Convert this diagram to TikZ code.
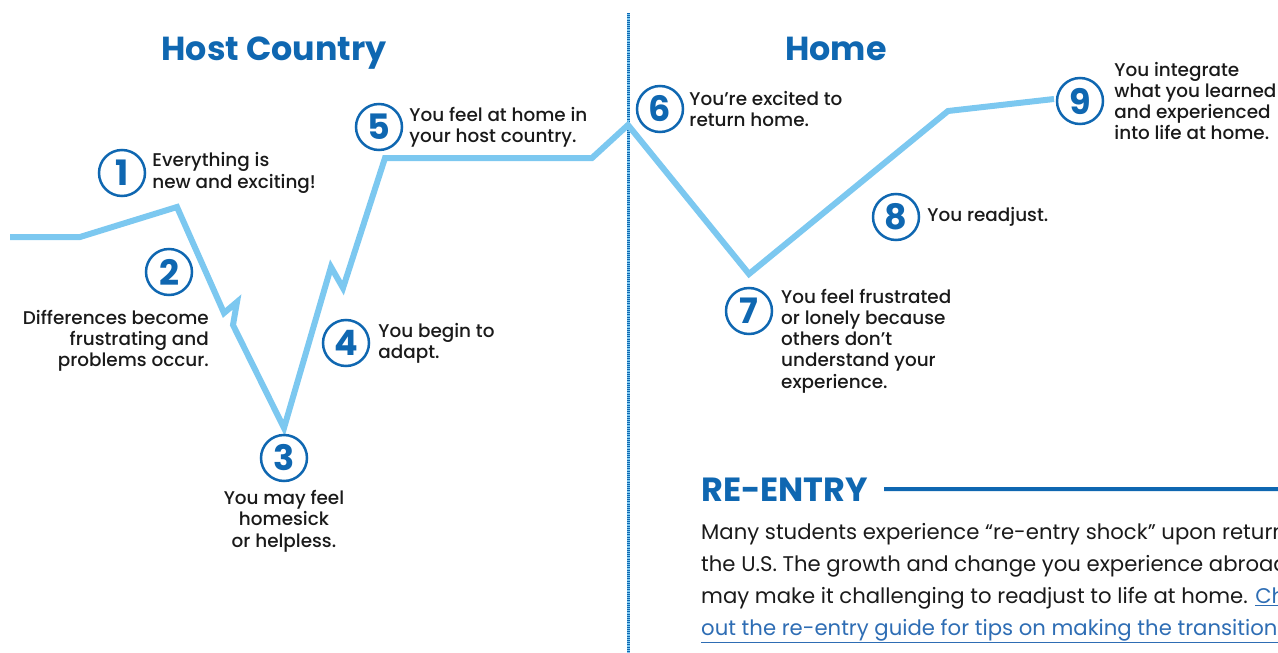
\documentclass[tikz,border=0pt]{standalone}
\usepackage{fontspec}
\setmainfont{Poppins}
\newfontfamily\notefont{Poppins}[UprightFont=* Medium]
\usetikzlibrary{positioning}

\definecolor{curveblue}{RGB}{124,200,240}
\definecolor{darkblue}{RGB}{15,103,177}
\definecolor{inkblack}{RGB}{26,26,26}
\definecolor{linkblue}{RGB}{46,109,180}

\newcommand{\reflink}[1]{\textcolor{linkblue}{\underline{#1}}}

\tikzset{
  stage/.style={circle,draw=darkblue,line width=2.5pt,fill=white,minimum size=46pt,
    inner sep=0pt,text=darkblue,font=\fontsize{35}{35}\selectfont\bfseries},
  note/.style={inner sep=0pt,text=inkblack,align=left,font=\notefont\fontsize{18.4}{21.3}\selectfont},
  heading/.style={inner sep=0pt,text=darkblue,anchor=base,font=\fontsize{33.3}{32}\selectfont\bfseries},
  curve/.style={curveblue,line width=6pt},
  divider/.style={darkblue,line width=3pt,dash pattern=on 1pt off 1.2pt}
}

\begin{document}
\begin{tikzpicture}[x=1pt,y=-1pt]
\useasboundingbox (0,0) rectangle (1278,653);
\clip (0,0) rectangle (1278,653);

% divider between the two halves
\draw[curveblue,line width=3pt] (628,13) -- (628,653);
\draw[divider] (628,13) -- (628,653);

% titles
\node[heading] (host) at (274,60) {Host Country};
\node[heading] (home) at (836,60) {Home};

% the curve
\draw[curve] (10,237) -- (80,237) -- (177,207) -- (224,313) -- (237,302) -- (233,325)
  -- (284,428) -- (331,267) -- (343,288) -- (385,158) -- (592,158) -- (628,125)
  -- (749,274) -- (948,111) -- (1054,99);

% numbered stages
\node[stage] (c1) at (122,173) {1};
\node[stage] (c2) at (169,272) {2};
\node[stage] (c3) at (284,458) {3};
\node[stage] (c4) at (346,343) {4};
\node[stage] (c5) at (379,127) {5};
\node[stage] (c6) at (660,109) {6};
\node[stage] (c7) at (749,311) {7};
\node[stage] (c8) at (896,217) {8};
\node[stage] (c9) at (1080,101) {9};

% stage texts
\node[note,right=6pt of c1] (t1) {Everything is\\new and exciting!};
\node[note,align=right,anchor=east] (t2) at (209,341) {Differences become\\frustrating and\\problems occur.};
\node[note,align=center,below=8pt of c3] (t3) {You may feel\\homesick\\or helpless.};
\node[note,right=8pt of c4] (t4) {You begin to\\adapt.};
\node[note,right=6pt of c5] (t5) {You feel at home in\\your host country.};
\node[note,right=5pt of c6] (t6) {You’re excited to\\return home.};
\node[note,anchor=west] (t7) at (781,341) {You feel frustrated\\or lonely because\\others don’t\\understand your\\experience.};
\node[note,right=7pt of c8] (t8) {You readjust.};
\node[note,right=10pt of c9] (t9) {You integrate\\what you learned\\and experienced\\into life at home.};

% re-entry box
\node[heading,anchor=base west,font=\fontsize{33.5}{32}\selectfont\bfseries] (reentry) at (701,501) {RE-ENTRY};
\coordinate (ruleend) at (1290,489);
\draw[darkblue,line width=4pt] ([xshift=16pt]reentry.east) -- (ruleend);
\node[inner sep=0pt,anchor=north west,align=left,text=inkblack,
  font=\fontsize{21.2}{32}\selectfont] (para) at (701,523)
  {Many students experience “re-entry shock” upon returning\\
   the U.S. The growth and change you experience abroad\\
   may make it challenging to readjust to life at home. \reflink{Check}\\
   \reflink{out the re-entry guide for tips on making the transition.}};
\end{tikzpicture}
\end{document}
